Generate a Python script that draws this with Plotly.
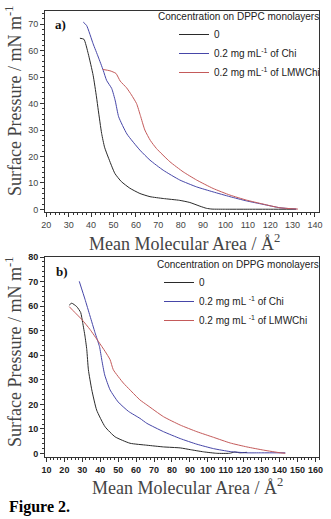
import plotly.graph_objects as go

# ---- Panel a) DPPC monolayers ----
a_x_0 = [35.0, 36.8, 38.7, 40.9, 42.4, 43.2, 44.7, 46.0, 47.6, 50.6, 53.5, 57.3, 61.8, 66.3, 72.2, 79.6, 84.1, 88.6, 91.5, 94.0, 100, 110, 120, 131.5]
a_y_0 = [64.7, 64.3, 58.9, 50.7, 42.5, 37.5, 28.7, 23.5, 19.8, 13.6, 10.5, 8.0, 6.0, 4.8, 4.1, 3.4, 2.6, 1.2, 0.4, 0.1, 0.05, 0.05, 0.05, 0.05]
a_x_chi = [36.5, 38.0, 40.9, 43.2, 45.4, 46.9, 49.2, 50.8, 52.3, 56.0, 61.8, 66.3, 72.2, 79.6, 87.1, 94.5, 102, 109.4, 116.8, 124.3, 131.7]
a_y_chi = [70.8, 69.5, 62.6, 57.6, 52.6, 48.8, 45.7, 41.0, 35.0, 28.5, 22.4, 18.6, 14.8, 11.1, 8.5, 6.6, 4.8, 3.2, 1.9, 0.6, 0.1]
a_x_lmw = [45.2, 48.4, 51.1, 53.0, 55.8, 58.0, 60.3, 62.0, 64.0, 66.5, 69.2, 75.2, 81.1, 87.1, 94.5, 102, 109.4, 116.8, 124.3, 132.4]
a_y_lmw = [52.9, 52.4, 51.4, 48.5, 46.0, 43.3, 40.0, 35.5, 30.0, 26.0, 23.0, 18.0, 14.2, 11.1, 7.9, 5.4, 3.5, 2.0, 0.6, 0.1]

# ---- Panel b) DPPG monolayers ----
b_x_0 = [22.7, 24.1, 26.9, 29.1, 30.2, 31.5, 32.5, 33.4, 35.3, 38.0, 42.7, 48.3, 56.6, 66.0, 75.3, 84.6, 90.2, 97.6, 105, 112, 115, 118, 121.8]
b_y_0 = [60.4, 61.2, 59.8, 57.4, 53.3, 47.8, 42.3, 34.1, 25.9, 17.7, 10.9, 6.8, 4.2, 3.4, 2.7, 2.3, 1.6, 0.7, 0.1, 0.1, 0.6, 0.3, 0.5]
b_x_chi = [28.3, 31.5, 34.3, 37.1, 39.6, 40.9, 42.5, 45.5, 50.0, 55.7, 62.2, 66.0, 75.3, 84.6, 93.9, 103.2, 112.5, 121.8, 130, 143.2]
b_y_chi = [70.1, 62.8, 56.0, 49.2, 43.5, 38.0, 32.0, 25.9, 21.0, 17.2, 14.3, 12.3, 8.9, 6.1, 3.8, 2.0, 0.8, 0.3, 0.3, 0.3]
b_x_lmw = [22.7, 25.9, 29.7, 34.3, 38.9, 42.7, 45.5, 47.3, 52.9, 56.6, 62.2, 66.0, 75.3, 84.6, 93.9, 103.2, 112.5, 121.8, 131.1, 140.4, 143.2]
b_y_lmw = [59.8, 57.4, 54.6, 50.5, 45.7, 41.6, 38.2, 34.1, 28.7, 25.9, 21.8, 19.8, 15.0, 11.6, 8.9, 6.6, 4.3, 2.7, 1.4, 0.3, 0.1]

names_a = ["0", "0.2 mg mL<sup>-1</sup> of Chi", "0.2 mg mL<sup>-1</sup> of LMWChi"]
names_b = ["0", "0.2 mg mL <sup>-1</sup> of Chi", "0.2 mg mL <sup>-1</sup> of LMWChi"]
colors = ["#2a2a2a", "#4646a8", "#c45a5a"]

W, H = 331, 519
fig = go.Figure()

for xs, ys, nm, c in zip([a_x_0, a_x_chi, a_x_lmw], [a_y_0, a_y_chi, a_y_lmw], names_a, colors):
    fig.add_trace(go.Scatter(x=xs, y=ys, name=nm, mode="lines",
                             line=dict(color=c, width=1, shape="spline", smoothing=0.5),
                             xaxis="x", yaxis="y", legend="legend"))
for xs, ys, nm, c in zip([b_x_0, b_x_chi, b_x_lmw], [b_y_0, b_y_chi, b_y_lmw], names_b, colors):
    fig.add_trace(go.Scatter(x=xs, y=ys, name=nm, mode="lines",
                             line=dict(color=c, width=1, shape="spline", smoothing=0.5),
                             xaxis="x2", yaxis="y2", legend="legend2"))

def px_x(p):
    return p / W

def px_y(p):
    return 1 - p / H

axis_common = dict(showline=True, linecolor="#333", linewidth=1, mirror=True,
                   ticks="outside", ticklen=4, tickwidth=1, tickcolor="#333",
                   showgrid=False, zeroline=False, automargin=False,
                   minor=dict(ticks="outside", ticklen=2, tickwidth=1, tickcolor="#333"))
tf_a = dict(family="Liberation Sans, Arial", size=9, color="#444")
tf_b = dict(family="Liberation Sans, Arial", size=9, color="#222", weight="bold")
lf = dict(family="Liberation Sans, Arial", size=10, color="#222")

fig.update_layout(
    template="none",
    width=W, height=H, margin=dict(l=0, r=0, t=0, b=0, autoexpand=False),
    paper_bgcolor="white", plot_bgcolor="white",
    xaxis=dict(axis_common, domain=[px_x(45), px_x(319)], range=[19.4, 141.8],
               dtick=10, tick0=0, tickfont=tf_a, anchor="y"),
    yaxis=dict(axis_common, domain=[px_y(212), px_y(11)], range=[-1, 75],
               dtick=10, tick0=0, tickfont=tf_a, anchor="x"),
    xaxis2=dict(axis_common, domain=[px_x(45), px_x(319)], range=[9.2, 162],
                dtick=10, tick0=0, tickfont=tf_b, anchor="y2"),
    yaxis2=dict(axis_common, domain=[px_y(457), px_y(257)], range=[-1.4, 80],
                dtick=10, tick0=0, tickfont=tf_b, anchor="x2"),
    legend=dict(x=px_x(156), xanchor="left", y=px_y(7), yanchor="top",
                bgcolor="rgba(0,0,0,0)", font=lf, indentation=18,
                title=dict(text="Concentration on DPPC monolayers", side="top", font=lf),
                itemwidth=30),
    legend2=dict(x=px_x(155), xanchor="left", y=px_y(255), yanchor="top",
                 bgcolor="rgba(0,0,0,0)", font=lf, indentation=4,
                 title=dict(text="Concentration on DPPG monolayers", side="top", font=lf),
                 itemwidth=30),
    showlegend=True,
)

serif = "Liberation Serif, Times New Roman, serif"
ann = [
    dict(text="Surface Pressure / mN m<sup>-1</sup>", x=px_x(13), y=px_y(101), textangle=-90,
         font=dict(family=serif, size=18, color="#444")),
    dict(text="Surface Pressure / mN m<sup>-1</sup>", x=px_x(13), y=px_y(352), textangle=-90,
         font=dict(family=serif, size=18, color="#444")),
    dict(text="Mean Molecular Area / Å<sup>2</sup>", x=px_x(184), y=px_y(242),
         font=dict(family=serif, size=18, color="#444")),
    dict(text="Mean Molecular Area / Å<sup>2</sup>", x=px_x(187), y=px_y(486),
         font=dict(family=serif, size=18, color="#444")),
    dict(text="<b>a)</b>", x=px_x(60), y=px_y(25), font=dict(family=serif, size=13, color="#111")),
    dict(text="<b>b)</b>", x=px_x(62), y=px_y(271), font=dict(family=serif, size=13, color="#111")),
    dict(text="<b>Figure 2.</b>", x=px_x(7), y=px_y(507), xanchor="left",
         font=dict(family=serif, size=16, color="#000")),
]
for a in ann:
    a.setdefault("xanchor", "center")
    fig.add_annotation(xref="paper", yref="paper", showarrow=False, yanchor="middle", **a)

fig.write_html("out.html", config={"displayModeBar": False},
               post_script="document.body.style.margin='0px';")
